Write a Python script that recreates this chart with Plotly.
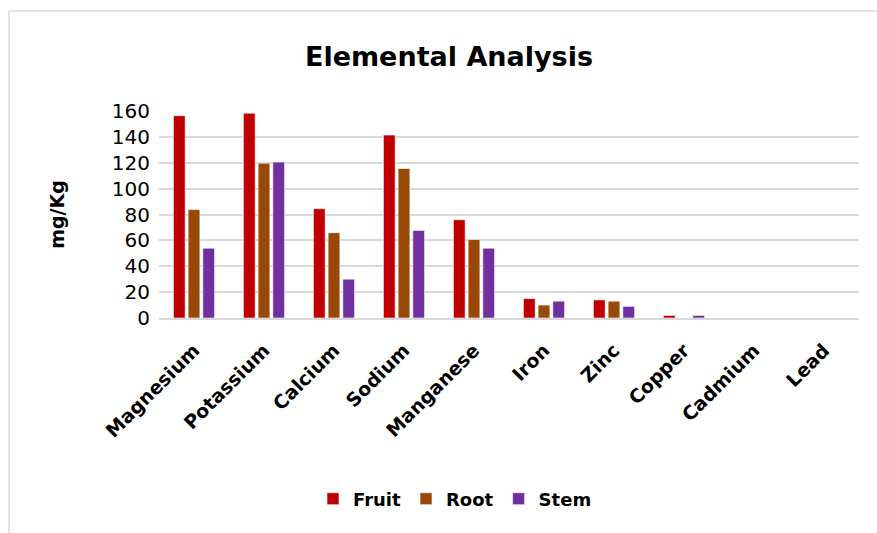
import plotly.graph_objects as go

categories = ["Magnesium", "Potassium", "Calcium", "Sodium", "Manganese",
              "Iron", "Zinc", "Copper", "Cadmium", "Lead"]
fruit = [156.4, 158.3, 84.5, 141.4, 76.0, 15.0, 14.0, 2.0, 0, 0]
root = [83.8, 119.7, 65.9, 115.6, 60.7, 10.0, 13.0, 0, 0, 0]
stem = [54.0, 120.5, 30.0, 67.7, 54.0, 13.0, 9.0, 2.0, 0, 0]
y_ticks = [0, 20, 40, 60, 80, 100, 120, 140, 160]

FONT = "'DejaVu Sans', sans-serif"

fig = go.Figure()
for name, vals, col in [("Fruit", fruit, "#C00000"),
                        ("Root", root, "#984807"),
                        ("Stem", stem, "#7030A0")]:
    fig.add_trace(go.Bar(name="<b>" + name + "</b>", x=categories, y=vals,
                         marker=dict(color=col, line=dict(color="white", width=0.6))))

W, H = 877, 533
# plot area in screen px: x 159..859, y 111..318
L, T = 159, 111
R = W - 859
B = H - 318
ph = H - T - B
pw = W - L - R
ybot = H - B


def px_x(p):
    return (p - L) / pw


def px_y(p):
    return (ybot - p) / ph


fig.update_layout(
    width=W, height=H,
    margin=dict(l=L, r=R, t=T, b=B, autoexpand=False),
    paper_bgcolor="white", plot_bgcolor="white",
    barmode="group", bargap=0.37, bargroupgap=0.2,
    title=dict(text="Elemental Analysis", x=449 / W, xanchor="center",
               y=1 - 57 / H, yanchor="middle",
               font=dict(family=FONT, size=27, color="black", weight=600)),
    font=dict(family=FONT, color="black"),
    legend=dict(orientation="h", x=px_x(455), xanchor="center",
                y=px_y(499), yanchor="middle",
                font=dict(family=FONT, size=18, color="black"),
                itemwidth=30, traceorder="normal"),
    xaxis=dict(tickangle=-45, tickfont=dict(family=FONT, size=19, color="black"),
               showline=True, linecolor="#d9d9d9", linewidth=1.5,
               ticks="", showgrid=False, ticklabelstandoff=12),
    yaxis=dict(range=[0, 160], tickvals=y_ticks,
               tickfont=dict(family=FONT, size=20, color="black"),
               showgrid=True, gridcolor="#d9d9d9", gridwidth=1.5,
               zeroline=False, showline=False, ticks="", ticklen=0,
               ticklabelstandoff=8,
               title=dict(text="<b>mg/Kg</b>", standoff=42,
                          font=dict(family=FONT, size=19, color="black"))),
    shapes=[
        dict(type="line", xref="paper", yref="paper",
             x0=px_x(9), x1=px_x(9), y0=px_y(540), y1=px_y(11),
             line=dict(color="#d9d9d9", width=1.5), layer="below"),
        dict(type="line", xref="paper", yref="paper",
             x0=px_x(9), x1=px_x(880), y0=px_y(11), y1=px_y(11),
             line=dict(color="#d9d9d9", width=1.5), layer="below"),
    ],
)
fig.update_xaxes(tickprefix="<b>", ticksuffix="</b>")
fig.update_yaxes(tickprefix="<b>", ticksuffix="</b>")

fig.write_html(
    "out.html",
    config={"displayModeBar": False},
    post_script=("document.body.style.margin='0';"
                 "document.body.style.overflow='hidden';"
                 "document.documentElement.style.overflow='hidden';"),
)
